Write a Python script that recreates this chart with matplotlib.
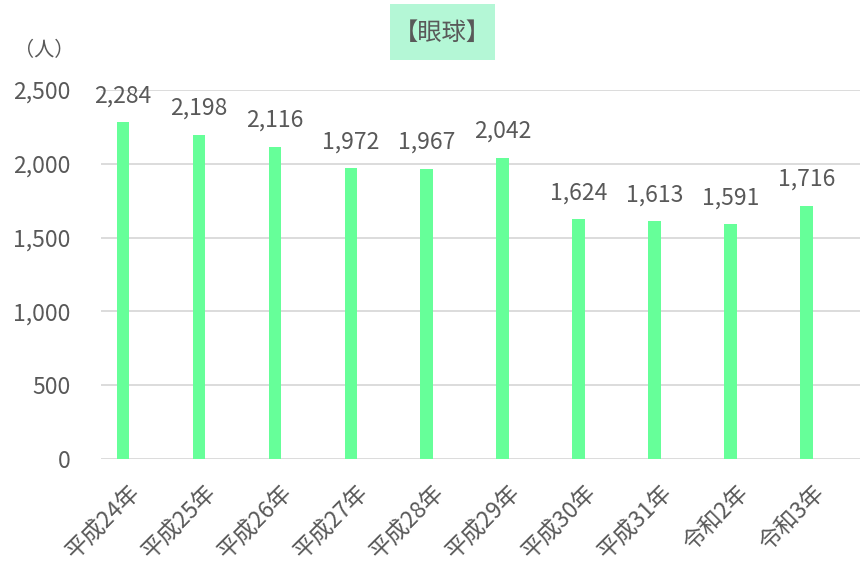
import matplotlib.pyplot as plt
import matplotlib.transforms as mtransforms
from matplotlib.patches import Rectangle

plt.rcParams['font.family'] = ['Noto Sans CJK JP', 'DejaVu Sans']

years = ['平成24年', '平成25年', '平成26年', '平成27年', '平成28年',
         '平成29年', '平成30年', '平成31年', '令和2年', '令和3年']
counts = [2284, 2198, 2116, 1972, 1967, 2042, 1624, 1613, 1591, 1716]
yticks = [0, 500, 1000, 1500, 2000, 2500]

TEXT = '#595959'
BAR = '#66ff99'

fig = plt.figure(figsize=(8.6, 5.66), dpi=100)
ax = fig.add_axes([101 / 860, 1 - 459 / 566, 1 - 101 / 860, (459 - 90) / 566])

x = list(range(len(years)))
ax.bar(x, counts, width=0.17, color=BAR, zorder=3)
for xi, v in zip(x, counts):
    ax.text(xi, v + 100, f'{v:,}', ha='center', va='bottom', fontsize=16.5,
            color=TEXT, clip_on=False)

ax.set_ylim(0, 2500)
ax.set_xlim(-0.29, 9.70)
ax.set_yticks(yticks)
ax.set_yticklabels([f'{t:,}' for t in yticks], fontsize=16.5, color=TEXT)
ax.set_xticks(x)
ax.set_xticklabels(years, fontsize=16.5, color=TEXT, rotation=45,
                   ha='right', va='center', rotation_mode='anchor')
ax.tick_params(axis='both', length=0)
ax.tick_params(axis='y', pad=22)
ax.tick_params(axis='x', pad=0)
# shift rotated labels so they sit like the original
shift = mtransforms.ScaledTranslation(14 / 100, -30 / 100, fig.dpi_scale_trans)
for lbl in ax.get_xticklabels():
    lbl.set_transform(lbl.get_transform() + shift)
ax.grid(axis='y', color='#d9d9d9', linewidth=1.3, zorder=0)
for s in ax.spines.values():
    s.set_visible(False)

fig.patches.append(Rectangle((390 / 860, 1 - 60 / 566), 105 / 860, 56 / 566,
                             transform=fig.transFigure, facecolor='#b4f7d6',
                             edgecolor='none', zorder=0))
fig.text(442 / 860, 1 - 33 / 566, '【眼球】', ha='center', va='center',
         fontsize=17.5, color=TEXT)
fig.text(44 / 860, 1 - 51 / 566, '（人）', ha='center', va='center',
         fontsize=14.5, color=TEXT)

fig.savefig('out.png', dpi=100)
